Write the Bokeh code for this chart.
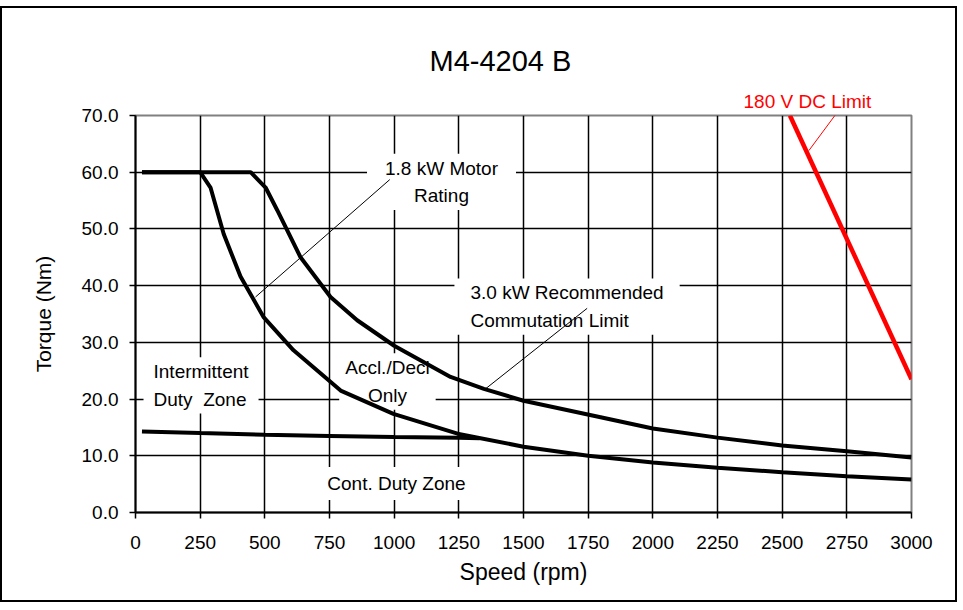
from bokeh.plotting import figure
from bokeh.models import Range1d, Label, Arrow, FixedTicker, NumeralTickFormatter, Title
from bokeh.embed import file_html
from bokeh.resources import INLINE

# ---- data ----
speed_18 = [25, 250, 290, 341, 406, 496, 611, 793, 997, 1245, 1500, 1750, 2000, 2250, 2500, 2750, 3000]
torque_18 = [60, 60, 57.3, 49.1, 41.6, 34.4, 28.6, 21.5, 17.4, 13.9, 11.6, 10.0, 8.8, 7.9, 7.1, 6.4, 5.8]

speed_30 = [25, 445, 503, 548, 638, 754, 857, 1000, 1218, 1347, 1500, 1798, 2000, 2250, 2500, 2750, 3000]
torque_30 = [60, 60, 57.3, 53.3, 45.0, 38.0, 33.9, 29.4, 23.9, 21.8, 19.7, 16.8, 14.8, 13.2, 11.8, 10.8, 9.7]

speed_cont = [25, 250, 500, 750, 1000, 1250, 1330]
torque_cont = [14.3, 14.0, 13.7, 13.5, 13.3, 13.2, 13.1]

speed_dc = [2530, 3000]
torque_dc = [70.0, 23.5]

x_ticks = [0, 250, 500, 750, 1000, 1250, 1500, 1750, 2000, 2250, 2500, 2750, 3000]
y_ticks = [0, 10, 20, 30, 40, 50, 60, 70]

# leader lines for annotations (speed, torque)
lead_18 = ([983, 464], [58.7, 38.0])
lead_30 = ([1746, 1353], [36.0, 21.8])
lead_dc = ([2738, 2603], [72.1, 63.8])

FONT = "Liberation Sans"

p = figure(width=957, height=596, output_backend="svg", toolbar_location=None,
           x_range=Range1d(0, 3000), y_range=Range1d(0, 70),
           min_border_left=133, min_border_right=48, min_border_top=107, min_border_bottom=92)
p.styles = {"border": "2px solid black", "margin-top": "6px"}
p.background_fill_color = "white"
p.border_fill_color = "white"
p.outline_line_color = "#808080"
p.outline_line_width = 2

for ax in (p.xaxis[0], p.yaxis[0]):
    ax.axis_line_color = "black"
    ax.axis_line_width = 2
    ax.major_tick_line_color = "black"
    ax.major_tick_line_width = 1.5
    ax.major_tick_out = 6
    ax.major_tick_in = 0
    ax.minor_tick_line_color = None
    ax.major_label_text_font = FONT
    ax.major_label_text_font_size = "19px"
    ax.major_label_text_color = "black"
    ax.axis_label_text_font = FONT
    ax.axis_label_text_font_style = "normal"
    ax.axis_label_text_color = "black"

p.xaxis.ticker = FixedTicker(ticks=x_ticks)
p.yaxis.ticker = FixedTicker(ticks=y_ticks)
p.yaxis.formatter = NumeralTickFormatter(format="0.0")
p.xaxis.axis_label = "Speed (rpm)"
p.yaxis.axis_label = "Torque (Nm)"
p.xaxis.axis_label_text_font_size = "23px"
p.yaxis.axis_label_text_font_size = "21px"
p.xaxis.major_label_standoff = 17
p.yaxis.major_label_standoff = 11
p.xaxis.axis_label_standoff = 7
p.yaxis.axis_label_standoff = 24

p.grid.grid_line_color = "black"
p.grid.grid_line_width = 1.5
p.grid.grid_line_alpha = 1.0

# ---- titles above the frame (red limit label first = closest to frame) ----
p.add_layout(Title(text="180 V DC Limit", align="left", offset=608, standoff=8,
                   text_font=FONT, text_font_size="19px", text_font_style="normal",
                   text_color="#ff0000"), "above")
p.add_layout(Title(text="M4-4204 B", align="left", offset=294, standoff=16,
                   text_font=FONT, text_font_size="29px", text_font_style="normal",
                   text_color="black"), "above")

# ---- boxed annotation texts (cover grid, under curves) ----
def boxed(x, y, text, align="left", pad=(18, 4)):
    lab = Label(x=x, y=y, text=text, text_align=align, text_baseline="middle",
                text_font=FONT, text_font_size="19px", text_color="black",
                text_line_height=1.3, background_fill_color="white", padding=pad)
    lab.level = "underlay"
    p.add_layout(lab)

boxed(1183, 58.3, "1.8 kW Motor\nRating", align="center")
boxed(1233, 36.3, "3.0 kW Recommended\nCommutation Limit", align="left", pad=(16, 4))
boxed(31, 22.4, "Intermittent\nDuty\u00a0 Zone", align="left", pad=(10, 4))
boxed(974, 23.1, "Accl./Decl\nOnly", align="center", pad=(6, 4))
boxed(1009, 5.1, "Cont. Duty Zone", align="center", pad=(8, 6))

# ---- curves ----
p.line(speed_cont, torque_cont, line_color="black", line_width=4)
p.line(speed_18, torque_18, line_color="black", line_width=4)
p.line(speed_30, torque_30, line_color="black", line_width=4)
p.line(speed_dc, torque_dc, line_color="#ff0000", line_width=4.5)

# leader lines
p.line(lead_18[0], lead_18[1], line_color="black", line_width=1)
p.line(lead_30[0], lead_30[1], line_color="black", line_width=1)
p.add_layout(Arrow(end=None, x_start=lead_dc[0][0], y_start=lead_dc[1][0],
                   x_end=lead_dc[0][1], y_end=lead_dc[1][1],
                   line_color="#ff0000", line_width=1))

open("out.html", "w").write(file_html(p, INLINE))
